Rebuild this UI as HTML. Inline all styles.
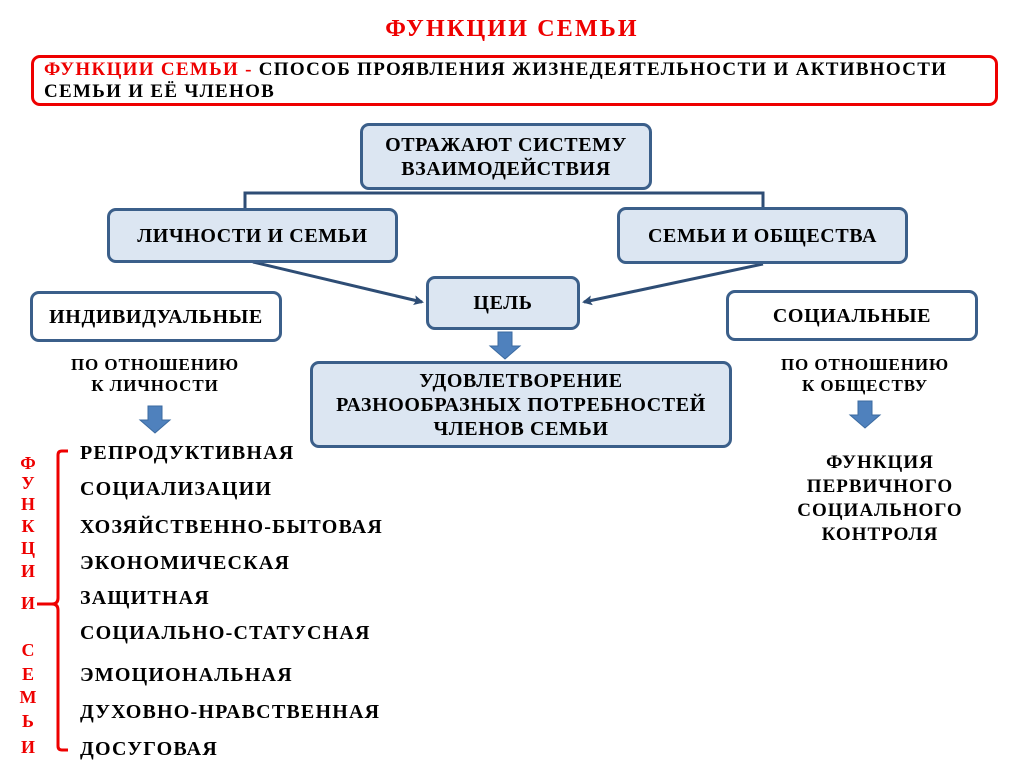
<!DOCTYPE html>
<html><head><meta charset="utf-8"><style>
body{margin:0;width:1024px;height:767px;background:#fff;position:relative;overflow:hidden;font-family:"Liberation Serif","DejaVu Serif",serif;font-weight:bold;color:#000}
.a{position:absolute;white-space:nowrap}
.b{position:absolute;box-sizing:border-box;border:3px solid #3b5f8a;border-radius:9px;background:#dce6f2;display:flex;align-items:center;justify-content:center;text-align:center;font-size:20px;line-height:24px;letter-spacing:0.6px}
.w{background:#fff}
.c{text-align:center;font-size:17px;line-height:21px;letter-spacing:0.9px}
.l{font-size:20px;left:80px;letter-spacing:1.2px}
.v{position:absolute;left:19px;width:18px;text-align:center;color:#e00;font-size:18px}
</style></head><body>
<div class="a" style="left:0;width:1024px;text-align:center;top:16px;font-size:24px;letter-spacing:2.2px;color:#e00">ФУНКЦИИ СЕМЬИ</div>
<div class="a" style="left:31px;top:55px;width:967px;height:51px;box-sizing:border-box;border:3px solid #e00;border-radius:9px;padding:1px 0 0 10px;font-size:19px;letter-spacing:1.3px;line-height:22px;white-space:nowrap"><span style="color:#e00">ФУНКЦИИ СЕМЬИ -</span> СПОСОБ ПРОЯВЛЕНИЯ ЖИЗНЕДЕЯТЕЛЬНОСТИ И АКТИВНОСТИ<br>СЕМЬИ И ЕЁ ЧЛЕНОВ</div>

<svg style="position:absolute;left:0;top:0" width="1024" height="767">
<defs><marker id="m" markerWidth="10" markerHeight="10" refX="8" refY="5" orient="auto" markerUnits="userSpaceOnUse"><path d="M0,0 L10,5 L0,10 L2,5z" fill="#2e4d75"/></marker></defs>
<polyline points="245,210 245,193 763,193 763,209" fill="none" stroke="#2e4d75" stroke-width="3"/>
<line x1="253" y1="262" x2="422" y2="302" stroke="#2e4d75" stroke-width="3" marker-end="url(#m)"/>
<line x1="763" y1="264" x2="584" y2="302" stroke="#2e4d75" stroke-width="3" marker-end="url(#m)"/>
<g fill="#4f81bd" stroke="#3b6aa0" stroke-width="1">
<path d="M498,332 h14 v14 h8 l-15,13 l-15,-13 h8z"/>
<path d="M148,406 h14 v14 h8 l-15,13 l-15,-13 h8z"/>
<path d="M858,401 h14 v14 h8 l-15,13 l-15,-13 h8z"/>
</g>
<path d="M68,451 h-6 q-4,0 -4,4 v143 q0,6 -6,6 h-15 M52,604 q6,0 6,6 v136 q0,4 4,4 h6" fill="none" stroke="#e00" stroke-width="3"/>
</svg>

<div class="b" style="left:360px;top:123px;width:292px;height:67px">ОТРАЖАЮТ СИСТЕМУ<br>ВЗАИМОДЕЙСТВИЯ</div>
<div class="b" style="left:107px;top:208px;width:291px;height:55px">ЛИЧНОСТИ И СЕМЬИ</div>
<div class="b" style="left:617px;top:207px;width:291px;height:57px">СЕМЬИ И ОБЩЕСТВА</div>
<div class="b" style="left:426px;top:276px;width:154px;height:54px">ЦЕЛЬ</div>
<div class="b w" style="left:30px;top:291px;width:252px;height:51px">ИНДИВИДУАЛЬНЫЕ</div>
<div class="b w" style="left:726px;top:290px;width:252px;height:51px">СОЦИАЛЬНЫЕ</div>
<div class="b" style="left:310px;top:361px;width:422px;height:87px">УДОВЛЕТВОРЕНИЕ<br>РАЗНООБРАЗНЫХ ПОТРЕБНОСТЕЙ<br>ЧЛЕНОВ СЕМЬИ</div>

<div class="a c" style="left:55px;width:200px;top:354px">ПО ОТНОШЕНИЮ<br>К ЛИЧНОСТИ</div>
<div class="a c" style="left:765px;width:200px;top:354px">ПО ОТНОШЕНИЮ<br>К ОБЩЕСТВУ</div>
<div class="a c" style="left:780px;width:200px;top:451px;font-size:19px;line-height:24px;letter-spacing:1px">ФУНКЦИЯ<br>ПЕРВИЧНОГО<br>СОЦИАЛЬНОГО<br>КОНТРОЛЯ</div>

<div class="a l" style="top:442px">РЕПРОДУКТИВНАЯ</div>
<div class="a l" style="top:478px">СОЦИАЛИЗАЦИИ</div>
<div class="a l" style="top:516px">ХОЗЯЙСТВЕННО-БЫТОВАЯ</div>
<div class="a l" style="top:552px">ЭКОНОМИЧЕСКАЯ</div>
<div class="a l" style="top:587px">ЗАЩИТНАЯ</div>
<div class="a l" style="top:622px">СОЦИАЛЬНО-СТАТУСНАЯ</div>
<div class="a l" style="top:664px">ЭМОЦИОНАЛЬНАЯ</div>
<div class="a l" style="top:701px">ДУХОВНО-НРАВСТВЕННАЯ</div>
<div class="a l" style="top:738px">ДОСУГОВАЯ</div>

<div class="v" style="top:453px">Ф</div>
<div class="v" style="top:473px">У</div>
<div class="v" style="top:494px">Н</div>
<div class="v" style="top:516px">К</div>
<div class="v" style="top:538px">Ц</div>
<div class="v" style="top:561px">И</div>
<div class="v" style="top:593px">И</div>
<div class="v" style="top:640px">С</div>
<div class="v" style="top:664px">Е</div>
<div class="v" style="top:687px">М</div>
<div class="v" style="top:711px">Ь</div>
<div class="v" style="top:737px">И</div>
</body></html>
